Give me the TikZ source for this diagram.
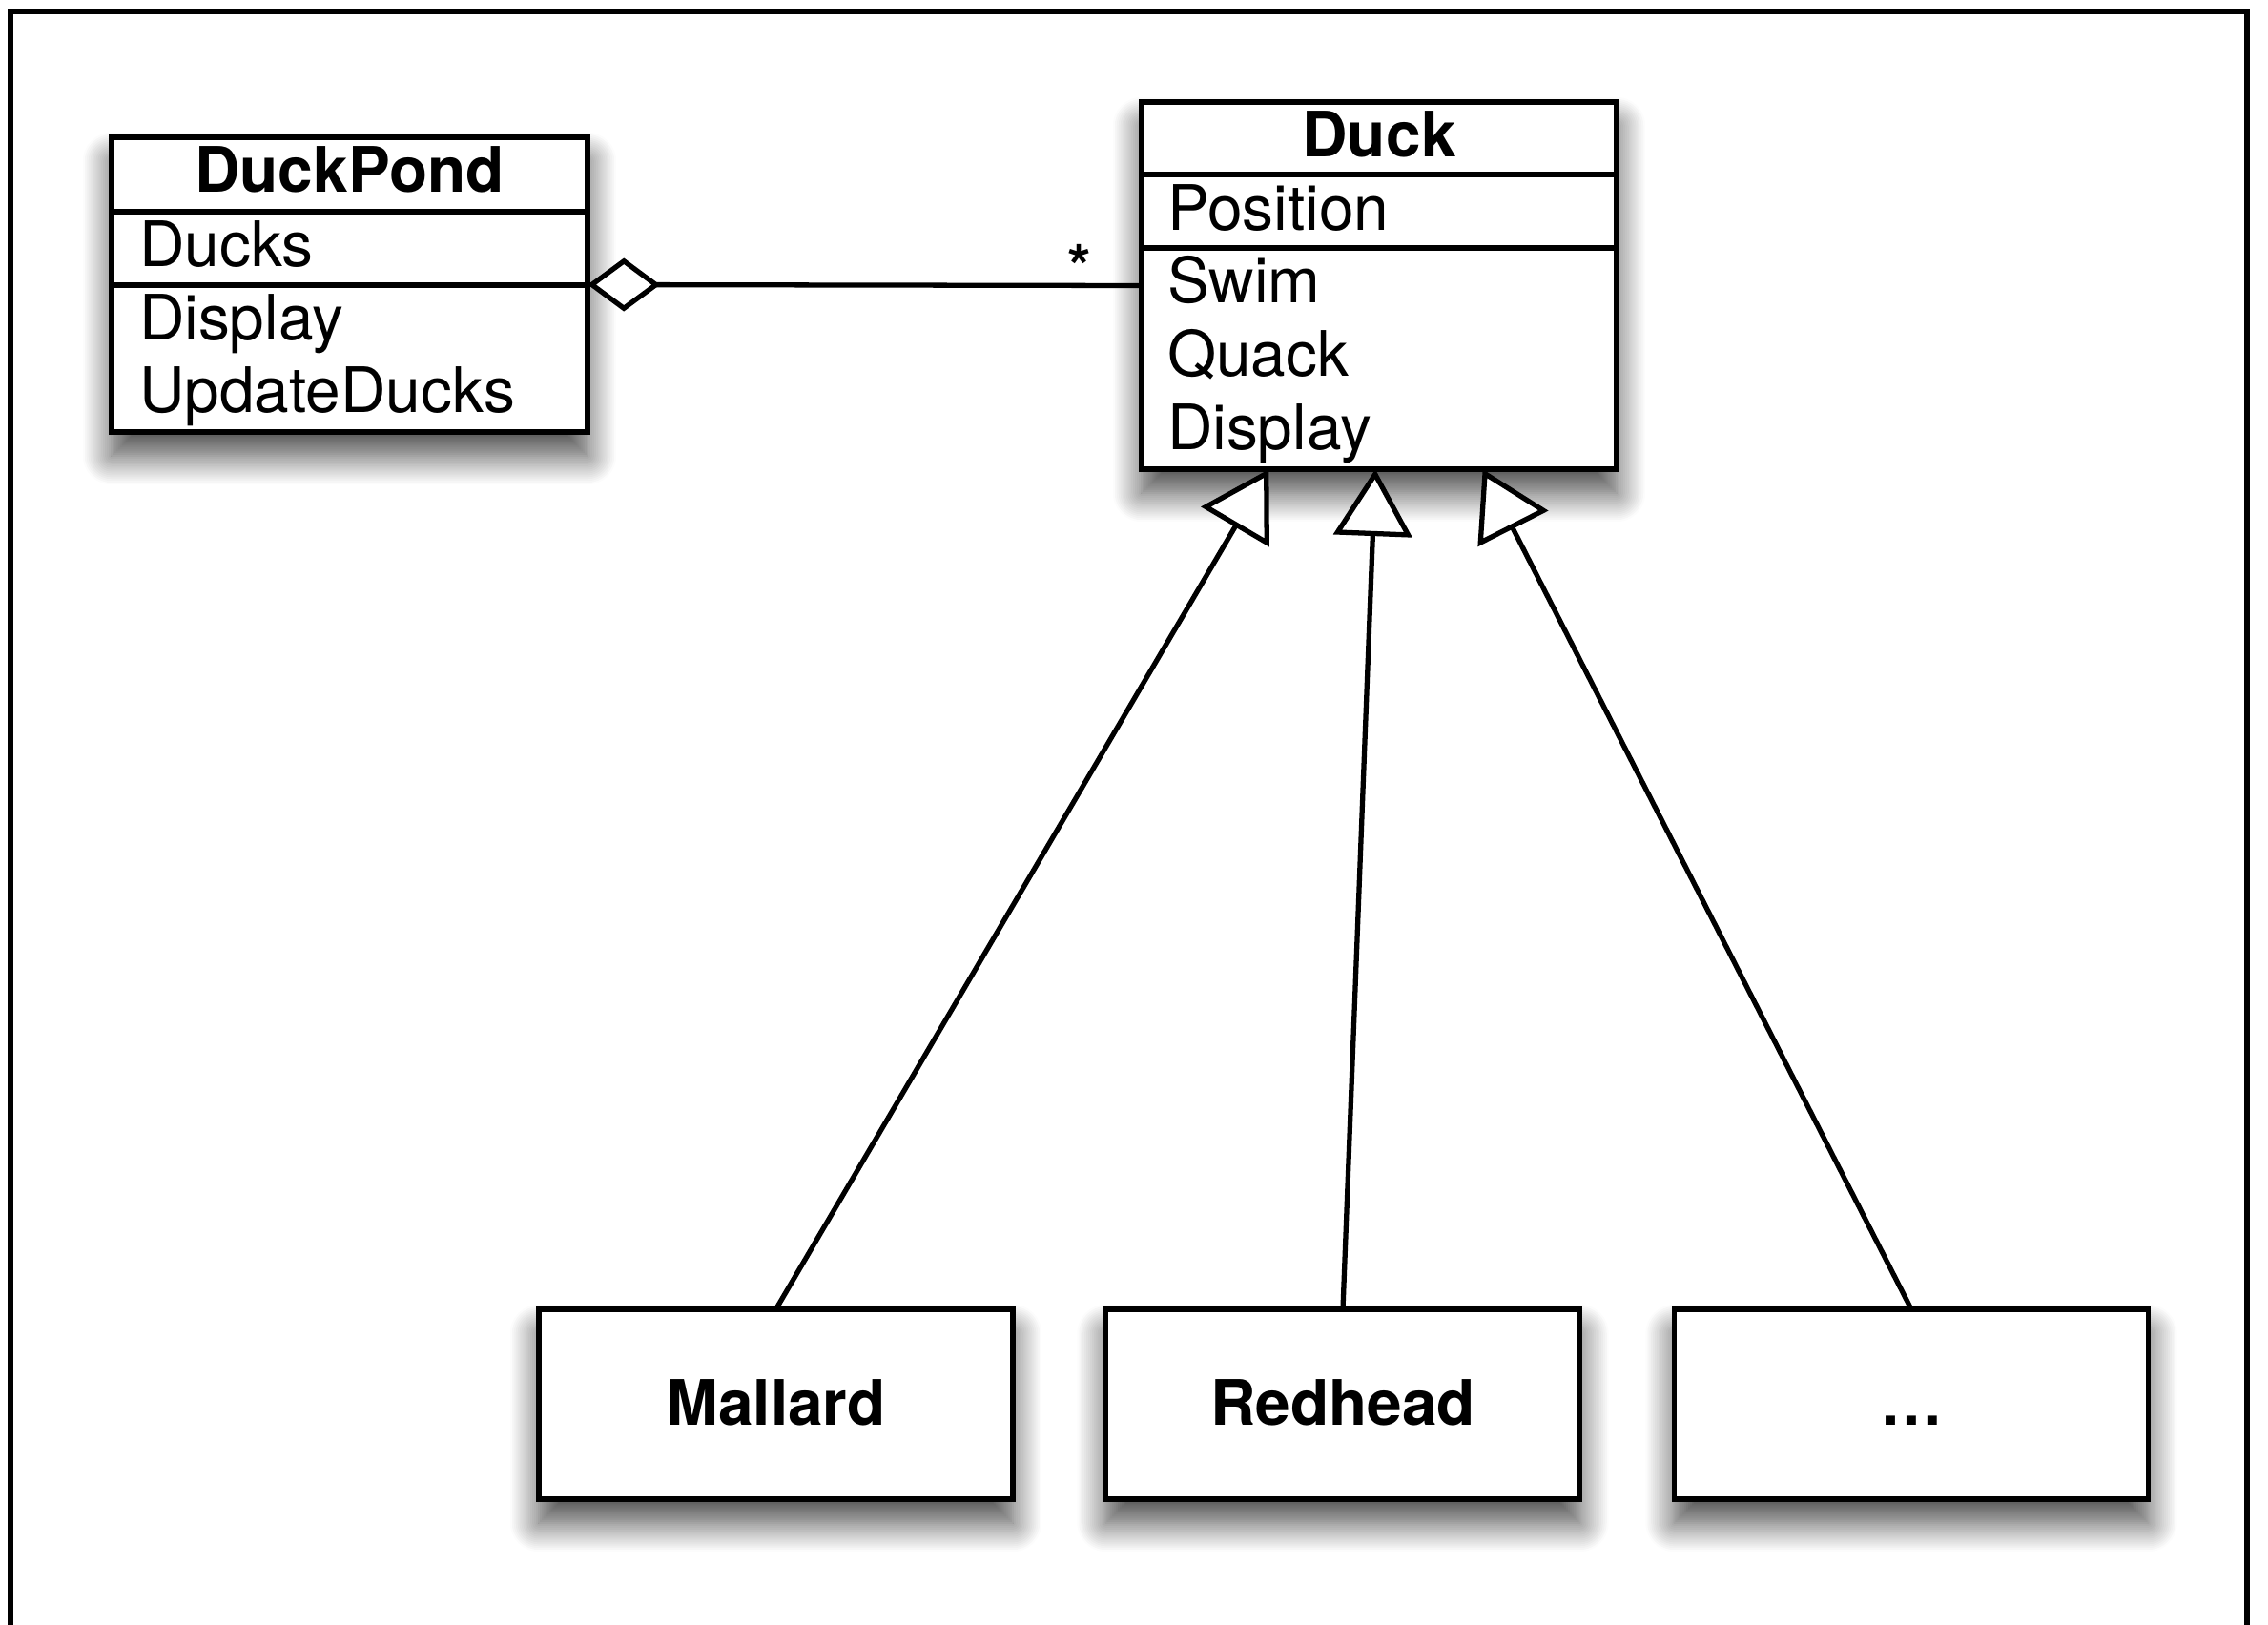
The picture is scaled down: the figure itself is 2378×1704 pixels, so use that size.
\documentclass[tikz,border=0pt]{standalone}
\usepackage{fontspec}
\setmainfont{TeX Gyre Heros}
\usetikzlibrary{arrows.meta,shadows.blur,calc}

\begin{document}
\begin{tikzpicture}[x=0.01cm, y=-0.01cm,
  every node/.style={inner sep=0pt, outer sep=0pt},
  umlfont/.style={font=\fontsize{18.7}{22}\selectfont},
  softshadow/.style={blur shadow={shadow xshift=0cm, shadow yshift=-0.25cm,
      shadow blur radius=0.3cm, shadow opacity=72, shadow blur steps=16}},
  classbox/.style={draw, line width=1.6pt, fill=white, rectangle, softshadow},
  leafbox/.style={classbox, umlfont, font=\fontsize{18.7}{22}\selectfont\bfseries,
      minimum width=4.97cm, minimum height=1.99cm, text height=0.44cm, text depth=0cm},
  sepline/.style={line width=1.6pt},
  member/.style={umlfont, anchor=base west},
  title/.style={font=\fontsize{18.7}{22}\selectfont\bfseries, anchor=base},
  agg/.style={line width=1.5pt, {Diamond[length=0.76cm, width=0.56cm, fill=white]}-},
  gen/.style={line width=1.5pt, -{Triangle[length=0.7cm, width=0.82cm, fill=white]}},
  frameline/.style={line width=1.7pt, line cap=butt, line join=miter}
]
\useasboundingbox (0,0) rectangle (2378,1704);

% surrounding frame, open at the bottom
\draw[frameline] (11,1712) -- (11,12) -- (2356,12) -- (2356,1712);

% class DuckPond
\node[classbox, minimum width=4.99cm, minimum height=3.09cm] (pond) at (366.5,298.5) {};
\draw[sepline] ($(pond.north west)+(0,78)$) -- ($(pond.north east)+(0,78)$);
\draw[sepline] ($(pond.north west)+(0,155)$) -- ($(pond.north east)+(0,155)$);
\node[title] (pondname) at (366.5,202) {DuckPond};
\node[member] (pondducks) at (146,280) {Ducks};
\node[member] (ponddisplay) at (146,357) {Display};
\node[member] (pondupdate) at (146,433) {UpdateDucks};

% class Duck
\node[classbox, minimum width=4.98cm, minimum height=3.85cm] (duck) at (1446,299.5) {};
\draw[sepline] ($(duck.north west)+(0,76)$) -- ($(duck.north east)+(0,76)$);
\draw[sepline] ($(duck.north west)+(0,153)$) -- ($(duck.north east)+(0,153)$);
\node[title] (duckname) at (1446,165) {Duck};
\node[member] (duckpos) at (1224,242) {Position};
\node[member] (duckswim) at (1224,318) {Swim};
\node[member] (duckquack) at (1224,395) {Quack};
\node[member] (duckdisplay) at (1224,472) {Display};

% subclasses
\node[leafbox] (mallard) at (813.5,1472.5) {Mallard};
\node[leafbox] (redhead) at (1408,1472.5) {Redhead};
\node[leafbox] (other) at (2004,1472.5) {…};

% aggregation DuckPond <>-- * Duck
\draw[agg] (pond.east) -- (duck.west);
\node[font=\fontsize{18}{20}\selectfont\bfseries, anchor=base] (mult) at (1132,303) {*};

% generalizations
\coordinate (g1) at ($(duck.south west)!0.268!(duck.south east)$);
\coordinate (g2) at ($(duck.south west)!0.492!(duck.south east)$);
\coordinate (g3) at ($(duck.south west)!0.718!(duck.south east)$);
\draw[gen] (mallard.north) -- (g1);
\draw[gen] (redhead.north) -- (g2);
\draw[gen] (other.north) -- (g3);
\end{tikzpicture}
\end{document}
